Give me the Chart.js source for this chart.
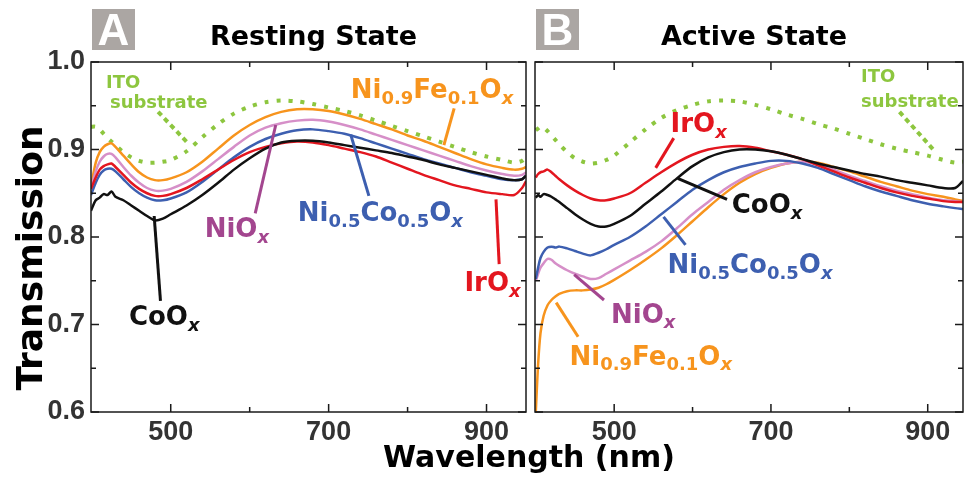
<!DOCTYPE html>
<html>
<head>
<meta charset="utf-8">
<title>Transmission spectra</title>
<script src="https://cdn.jsdelivr.net/npm/chart.js@4.4.1/dist/chart.umd.min.js"></script>
<style>
  html, body { margin: 0; padding: 0; background: #fff; }
  #wrap { position: relative; width: 964px; height: 483px; overflow: hidden; }
  canvas { position: absolute; top: 0; }
  #chartA { left: 0; }
  #chartB { left: 530px; }
  #overlay { left: 0; pointer-events: none; }
</style>
</head>
<body>
<div id="wrap">
  <canvas id="chartA" width="530" height="483"></canvas>
  <canvas id="chartB" width="434" height="483"></canvas>
  <canvas id="overlay" width="964" height="483"></canvas>
</div>
<script>
// --- data (wavelength in nm, transmission) ---
const wlA = [399, 405, 410, 415, 420, 425, 430, 440, 450, 460, 470, 480, 490, 500, 520, 540, 560, 580, 600, 620, 640, 660, 680, 700, 720, 740, 760, 780, 800, 820, 840, 860, 880, 900, 920, 935, 945, 950];
const itoA =    [0.926, 0.926, 0.923, 0.918, 0.913, 0.909, 0.905, 0.897, 0.891, 0.887, 0.885, 0.885, 0.886, 0.888, 0.898, 0.914, 0.929, 0.941, 0.949, 0.954, 0.956, 0.955, 0.952, 0.948, 0.944, 0.939, 0.933, 0.927, 0.921, 0.915, 0.909, 0.903, 0.897, 0.892, 0.888, 0.885, 0.887, 0.891];
const niFeA =   [0.858, 0.885, 0.897, 0.903, 0.906, 0.907, 0.903, 0.893, 0.883, 0.874, 0.868, 0.865, 0.865, 0.867, 0.874, 0.886, 0.901, 0.916, 0.928, 0.937, 0.943, 0.946, 0.946, 0.944, 0.940, 0.935, 0.929, 0.923, 0.916, 0.910, 0.903, 0.896, 0.889, 0.883, 0.879, 0.877, 0.878, 0.880];
const nioA =    [0.855, 0.875, 0.886, 0.892, 0.895, 0.895, 0.891, 0.880, 0.870, 0.862, 0.856, 0.853, 0.853, 0.855, 0.863, 0.875, 0.889, 0.903, 0.916, 0.925, 0.930, 0.933, 0.934, 0.932, 0.928, 0.923, 0.917, 0.911, 0.905, 0.899, 0.893, 0.887, 0.881, 0.876, 0.872, 0.870, 0.871, 0.874];
const niCoA =   [0.848, 0.862, 0.871, 0.876, 0.878, 0.878, 0.875, 0.866, 0.857, 0.850, 0.845, 0.842, 0.842, 0.844, 0.851, 0.863, 0.877, 0.891, 0.903, 0.912, 0.918, 0.922, 0.923, 0.921, 0.918, 0.913, 0.907, 0.901, 0.895, 0.889, 0.884, 0.879, 0.874, 0.870, 0.866, 0.865, 0.866, 0.870];
const irA =     [0.855, 0.868, 0.877, 0.881, 0.883, 0.884, 0.880, 0.871, 0.862, 0.855, 0.850, 0.847, 0.847, 0.849, 0.856, 0.866, 0.877, 0.888, 0.897, 0.903, 0.907, 0.909, 0.908, 0.905, 0.901, 0.897, 0.892, 0.885, 0.878, 0.871, 0.865, 0.859, 0.855, 0.851, 0.849, 0.848, 0.856, 0.864];
const coA =     [0.830, 0.842, 0.845, 0.849, 0.848, 0.852, 0.846, 0.842, 0.836, 0.830, 0.824, 0.819, 0.821, 0.826, 0.836, 0.848, 0.862, 0.877, 0.890, 0.901, 0.908, 0.910, 0.910, 0.908, 0.905, 0.902, 0.899, 0.896, 0.892, 0.888, 0.883, 0.879, 0.875, 0.871, 0.867, 0.865, 0.866, 0.870];

const wlB = [400, 403, 406, 410, 415, 420, 425, 430, 440, 450, 460, 470, 480, 490, 500, 520, 540, 560, 580, 600, 620, 640, 660, 680, 700, 720, 740, 760, 780, 800, 820, 840, 860, 880, 900, 920, 935, 945];
const itoB =    [0.922, 0.924, 0.926, 0.925, 0.921, 0.916, 0.911, 0.906, 0.897, 0.890, 0.886, 0.884, 0.885, 0.888, 0.893, 0.908, 0.923, 0.936, 0.945, 0.951, 0.955, 0.956, 0.955, 0.951, 0.946, 0.940, 0.935, 0.929, 0.924, 0.918, 0.912, 0.906, 0.901, 0.897, 0.893, 0.888, 0.885, 0.886];
const niFeB =   [0.600, 0.655, 0.690, 0.710, 0.722, 0.728, 0.732, 0.735, 0.738, 0.739, 0.739, 0.740, 0.742, 0.746, 0.751, 0.762, 0.774, 0.787, 0.802, 0.818, 0.834, 0.849, 0.862, 0.872, 0.879, 0.884, 0.886, 0.885, 0.880, 0.875, 0.869, 0.863, 0.858, 0.853, 0.849, 0.846, 0.843, 0.841];
const nioB =    [0.750, 0.758, 0.765, 0.770, 0.775, 0.774, 0.770, 0.767, 0.762, 0.758, 0.755, 0.752, 0.753, 0.758, 0.763, 0.773, 0.783, 0.795, 0.810, 0.826, 0.840, 0.854, 0.865, 0.874, 0.880, 0.884, 0.886, 0.883, 0.877, 0.870, 0.864, 0.858, 0.853, 0.849, 0.845, 0.842, 0.841, 0.840];
const niCoB =   [0.752, 0.765, 0.776, 0.783, 0.788, 0.789, 0.788, 0.789, 0.787, 0.784, 0.781, 0.779, 0.782, 0.786, 0.791, 0.800, 0.812, 0.826, 0.840, 0.854, 0.865, 0.874, 0.880, 0.884, 0.887, 0.887, 0.884, 0.879, 0.872, 0.865, 0.858, 0.852, 0.847, 0.842, 0.838, 0.835, 0.833, 0.832];
const irB =     [0.868, 0.872, 0.874, 0.875, 0.877, 0.874, 0.870, 0.866, 0.859, 0.853, 0.848, 0.844, 0.842, 0.842, 0.844, 0.850, 0.862, 0.874, 0.885, 0.894, 0.900, 0.903, 0.904, 0.902, 0.898, 0.894, 0.889, 0.882, 0.875, 0.868, 0.862, 0.856, 0.851, 0.847, 0.844, 0.841, 0.840, 0.840];
const coB =     [0.845, 0.848, 0.846, 0.849, 0.848, 0.846, 0.843, 0.840, 0.833, 0.826, 0.820, 0.815, 0.812, 0.812, 0.815, 0.824, 0.838, 0.852, 0.867, 0.881, 0.891, 0.897, 0.900, 0.900, 0.898, 0.894, 0.889, 0.884, 0.880, 0.876, 0.872, 0.869, 0.865, 0.862, 0.859, 0.856, 0.856, 0.864];

const xTickValues = [500, 700, 900];
const xMinorValues = [600, 800];
const yTickValues = [0.6, 0.7, 0.8, 0.9, 1.0];
const yMinorValues = [0.65, 0.75, 0.85, 0.95];

const GREEN = '#8dc63f', ORANGE = '#f7941d', PINK = '#d68fc8', PINK_TXT = '#a3468f',
      BLUE = '#3d5fb0', RED = '#e3161f', BLACK = '#111111';

// curve labels, placed in data units (wavelength, transmission)
const labelsA = [
  { text: 'ITO', wl: 418, t: 0.970, color: GREEN, size: 18 },
  { text: 'substrate', wl: 423, t: 0.947, color: GREEN, size: 18 },
  { text: 'Ni{0.9}Fe{0.1}O{x}', wl: 728, t: 0.959, color: ORANGE, size: 26 },
  { text: 'NiO{x}', wl: 543, t: 0.800, color: PINK_TXT, size: 26 },
  { text: 'Ni{0.5}Co{0.5}O{x}', wl: 661, t: 0.818, color: BLUE, size: 26 },
  { text: 'CoO{x}', wl: 447, t: 0.699, color: BLACK, size: 26 },
  { text: 'IrO{x}', wl: 872, t: 0.738, color: RED, size: 26 }
];
const leadersA = [
  { from: [484, 0.943], to: [520, 0.909], color: GREEN, dash: true },
  { from: [859, 0.947], to: [846, 0.905], color: ORANGE },
  { from: [633, 0.928], to: [607, 0.827], color: PINK_TXT },
  { from: [728, 0.917], to: [751, 0.847], color: BLUE },
  { from: [479, 0.824], to: [487, 0.727], color: BLACK },
  { from: [912, 0.843], to: [916, 0.769], color: RED }
];
const labelsB = [
  { text: 'ITO', wl: 815, t: 0.977, color: GREEN, size: 18 },
  { text: 'substrate', wl: 815, t: 0.949, color: GREEN, size: 18 },
  { text: 'IrO{x}', wl: 572, t: 0.920, color: RED, size: 26 },
  { text: 'CoO{x}', wl: 650, t: 0.827, color: BLACK, size: 26 },
  { text: 'Ni{0.5}Co{0.5}O{x}', wl: 568, t: 0.759, color: BLUE, size: 26 },
  { text: 'NiO{x}', wl: 496, t: 0.702, color: PINK_TXT, size: 26 },
  { text: 'Ni{0.9}Fe{0.1}O{x}', wl: 443, t: 0.654, color: ORANGE, size: 26 }
];
const leadersB = [
  { from: [864, 0.943], to: [908, 0.899], color: GREEN, dash: true },
  { from: [576, 0.913], to: [553, 0.879], color: RED },
  { from: [581, 0.867], to: [644, 0.843], color: BLACK },
  { from: [563, 0.823], to: [591, 0.791], color: BLUE },
  { from: [449, 0.757], to: [487, 0.728], color: PINK_TXT },
  { from: [426, 0.725], to: [454, 0.686], color: ORANGE }
];

const FONT = '"DejaVu Sans", sans-serif';

function pts(xs, ys) {
  return xs.map((x, i) => ({ x, y: ys[i] }));
}

// draws text like "Ni{0.9}Fe{0.1}O{x}" with subscripts
function drawRich(ctx, str, x, y, size, color) {
  const parts = str.split(/(\{[^}]*\})/).filter(s => s.length);
  let cx = x;
  ctx.fillStyle = color;
  ctx.textBaseline = 'alphabetic';
  ctx.textAlign = 'left';
  parts.forEach(p => {
    const sub = p.startsWith('{');
    const txt = sub ? p.slice(1, -1) : p;
    const fs = sub ? Math.round(size * 0.7) : size;
    ctx.font = (txt === 'x' ? 'italic ' : '') + 'bold ' + fs + 'px ' + FONT;
    ctx.fillText(txt, cx, sub ? y + size * 0.22 : y);
    cx += ctx.measureText(txt).width;
  });
}

const panelPlugin = {
  id: 'panel',
  afterDraw(chart, args, opts) {
    const { ctx, chartArea: a, scales: { x, y } } = chart;
    ctx.save();

    // frame
    ctx.strokeStyle = '#1a1a1a';
    ctx.lineWidth = 1.5;
    ctx.strokeRect(a.left, a.top, a.right - a.left, a.bottom - a.top);

    // inward ticks on all four sides
    ctx.beginPath();
    const xt = xTickValues.map(v => [v, 8]).concat(xMinorValues.map(v => [v, 5]));
    xt.forEach(([v, len]) => {
      const px = x.getPixelForValue(v);
      ctx.moveTo(px, a.bottom); ctx.lineTo(px, a.bottom - len);
      ctx.moveTo(px, a.top); ctx.lineTo(px, a.top + len);
    });
    const yt = yTickValues.map(v => [v, 8]).concat(yMinorValues.map(v => [v, 5]));
    yt.forEach(([v, len]) => {
      const py = y.getPixelForValue(v);
      ctx.moveTo(a.left, py); ctx.lineTo(a.left + len, py);
      ctx.moveTo(a.right, py); ctx.lineTo(a.right - len, py);
    });
    ctx.stroke();

    // leader lines
    opts.leaders.forEach(l => {
      ctx.beginPath();
      ctx.strokeStyle = l.color;
      ctx.lineWidth = l.dash ? 4 : 3;
      ctx.setLineDash(l.dash ? [5, 4] : []);
      ctx.moveTo(x.getPixelForValue(l.from[0]), y.getPixelForValue(l.from[1]));
      ctx.lineTo(x.getPixelForValue(l.to[0]), y.getPixelForValue(l.to[1]));
      ctx.stroke();
    });
    ctx.setLineDash([]);

    // curve labels
    opts.labels.forEach(l => {
      drawRich(ctx, l.text, x.getPixelForValue(l.wl), y.getPixelForValue(l.t), l.size, l.color);
    });

    // panel letter box
    const bx = a.left + 1;
    ctx.fillStyle = '#aba6a3';
    ctx.fillRect(bx, 9, 43, 41);
    ctx.fillStyle = '#ffffff';
    ctx.font = 'bold 44px "Liberation Sans", Arial, sans-serif';
    ctx.textAlign = 'center';
    ctx.textBaseline = 'alphabetic';
    ctx.fillText(opts.letter, bx + 21.5, 45);

    // panel title
    ctx.fillStyle = '#000';
    ctx.font = 'bold 27px ' + FONT;
    ctx.fillText(opts.title, (a.left + a.right) / 2 + 5, 45);
    ctx.restore();
  }
};

function makeDatasets(xs, co, ir, niCo, nio, niFe, ito) {
  const line = (data, color) => ({
    data: pts(xs, data), borderColor: color, borderWidth: 2.5,
    pointRadius: 0, tension: 0.3, fill: false
  });
  return [
    line(co, BLACK), line(ir, RED), line(niCo, BLUE), line(nio, PINK), line(niFe, ORANGE),
    Object.assign(line(ito, GREEN), { borderWidth: 4, borderDash: [4, 8] })
  ];
}

function makeChart(id, datasets, xMax, showY, pad, panel) {
  const tickFont = { family: '"Liberation Sans", Arial, sans-serif', size: 27, weight: 'bold' };
  return new Chart(document.getElementById(id), {
    type: 'line',
    data: { datasets },
    plugins: [panelPlugin],
    options: {
      responsive: false,
      animation: false,
      layout: { padding: pad },
      plugins: { legend: { display: false }, tooltip: { enabled: false }, panel },
      scales: {
        x: {
          type: 'linear', min: 399, max: xMax,
          grid: { display: false, drawTicks: false },
          border: { display: false },
          afterBuildTicks: s => { s.ticks = xTickValues.map(v => ({ value: v })); },
          afterFit: s => { s.height = 71; },
          ticks: { font: tickFont, color: '#333', padding: 4, autoSkip: false, maxRotation: 0,
                   callback: v => String(v) }
        },
        y: {
          min: 0.6, max: 1.0,
          grid: { display: false, drawTicks: false },
          border: { display: false },
          afterBuildTicks: s => { s.ticks = yTickValues.map(v => ({ value: v })); },
          afterFit: s => { s.width = showY ? 91 : 0; },
          ticks: { display: showY, font: tickFont, color: '#333', padding: 6,
                   callback: v => v.toFixed(1) }
        }
      }
    }
  });
}

makeChart('chartA', makeDatasets(wlA, coA, irA, niCoA, nioA, niFeA, itoA), 950, true,
  { left: 0, top: 62, right: 4, bottom: 0 },
  { letter: 'A', title: 'Resting State', labels: labelsA, leaders: leadersA });

makeChart('chartB', makeDatasets(wlB, coB, irB, niCoB, nioB, niFeB, itoB), 945, false,
  { left: 5, top: 62, right: 1, bottom: 0 },
  { letter: 'B', title: 'Active State', labels: labelsB, leaders: leadersB });

// shared axis titles
const oc = document.getElementById('overlay').getContext('2d');
oc.fillStyle = '#000';
oc.textAlign = 'center';
oc.textBaseline = 'alphabetic';
oc.font = 'bold 30px ' + FONT;
oc.fillText('Wavelength (nm)', 529, 467);
oc.save();
oc.translate(42, 258);
oc.rotate(-Math.PI / 2);
oc.font = 'bold 36px ' + FONT;
oc.fillText('Transmission', 0, 0);
oc.restore();
</script>
</body>
</html>
